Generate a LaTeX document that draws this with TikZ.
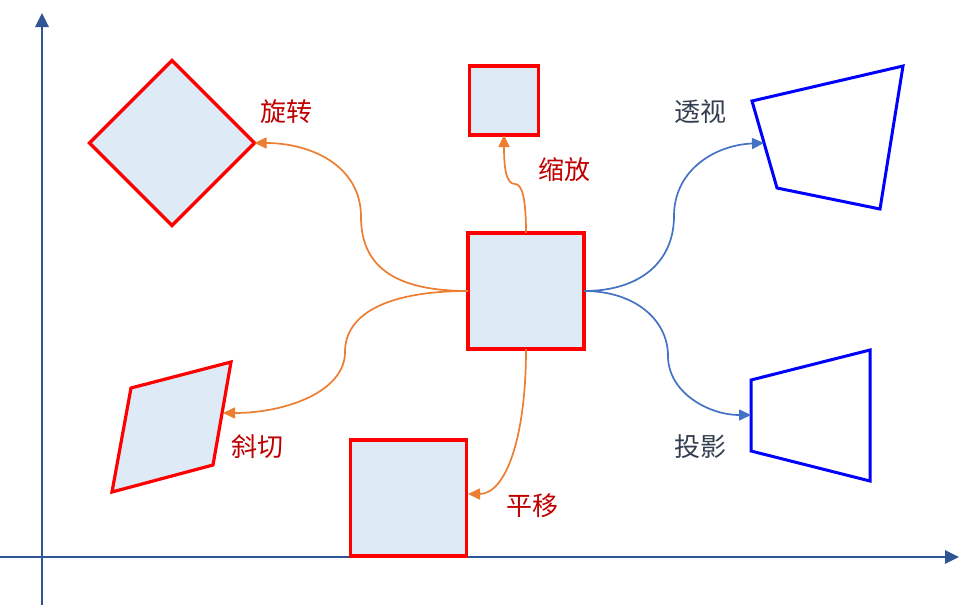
\documentclass[tikz,border=0pt]{standalone}
\usepackage{fontspec}
\newfontfamily\cjk{Noto Sans CJK SC}
\usetikzlibrary{arrows.meta,shapes.geometric}
\definecolor{axisblue}{HTML}{2F5597}
\definecolor{fillblue}{HTML}{DEEBF7}
\definecolor{conorange}{HTML}{ED7D31}
\definecolor{conblue}{HTML}{4472C4}
\definecolor{labred}{HTML}{C00000}
\definecolor{labdark}{HTML}{333F50}
\begin{document}
\begin{tikzpicture}[x=1pt,y=-1pt,
  axisline/.style={draw=axisblue,line width=2.6pt,-{Triangle[length=14pt,width=13pt]}},
  redshape/.style={draw=red,line width=3.2pt,fill=fillblue},
  redbox/.style={redshape,rectangle,inner sep=0pt,outer sep=0pt},
  blueshape/.style={draw=blue,line width=3pt,line join=miter},
  orangecon/.style={draw=conorange,line width=1.7pt,-{Triangle[length=12pt,width=11pt]}},
  bluecon/.style={draw=conblue,line width=1.7pt,-{Triangle[length=12pt,width=11pt]}},
  lab/.style={font=\cjk\fontsize{26}{30}\selectfont,inner sep=0pt},
  redlabel/.style={lab,text=labred},
  darklabel/.style={lab,text=labdark},
]
\useasboundingbox (0,0) rectangle (970,605);

% axes
\coordinate (yb) at (42,605);
\coordinate (yt) at (42,13);
\coordinate (xl) at (0,557);
\coordinate (xr) at (959,557);
\draw[axisline] (yb) -- (yt);
\draw[axisline] (xl) -- (xr);

% shapes
\node[redbox,minimum size=116pt] (center) at (526,291) {};
\node[redbox,minimum size=69pt] (scale) at (504,100.5) {};
\node[redbox,minimum size=116pt] (trans) at (408.5,498) {};
\node[redshape,diamond,aspect=1,inner sep=0pt,outer sep=0pt,minimum width=165pt,minimum height=165pt] (rot) at (172,143) {};

\coordinate (s1) at (131,388);
\coordinate (s2) at (231,362);
\coordinate (s3) at (213,465);
\coordinate (s4) at (112,492);
\draw[redshape,line join=miter] (s1) -- (s2) -- (s3) -- (s4) -- cycle;
\coordinate (shearR) at (223,413);

\coordinate (p1) at (752,101);
\coordinate (p2) at (903,66);
\coordinate (p3) at (880,209);
\coordinate (p4) at (777,188);
\draw[blueshape] (p1) -- (p2) -- (p3) -- (p4) -- cycle;
\coordinate (perspL) at (764,143);

\coordinate (q1) at (751,380);
\coordinate (q2) at (870,350);
\coordinate (q3) at (870,481);
\coordinate (q4) at (751,451);
\draw[blueshape] (q1) -- (q2) -- (q3) -- (q4) -- cycle;
\coordinate (projL) at (751,415);

\coordinate (transR) at (468,494);

% connectors
\draw[orangecon] (center.west) .. controls (400,291) and (361,270) .. (361,217)
  .. controls (361,165) and (310,143) .. (rot.east);
\draw[orangecon] (center.west) .. controls (385,291) and (345,315) .. (345,352)
  .. controls (345,392) and (285,413) .. (shearR);
\draw[orangecon] (center.north) .. controls (526,198) and (522,184) .. (515,184)
  .. controls (506,184) and (504,168) .. (scale.south);
\draw[orangecon] (center.south) .. controls (526,440) and (505,494) .. (transR);
\draw[bluecon] (center.east) .. controls (640,291) and (674,262) .. (674,216)
  .. controls (674,170) and (715,145) .. (perspL);
\draw[bluecon] (center.east) .. controls (635,291) and (668,320) .. (668,356)
  .. controls (668,392) and (708,415) .. (projL);

% labels
\node[redlabel] (lrot) at (286,112) {旋转};
\node[redlabel] (lscale) at (564,170) {缩放};
\node[darklabel] (lpersp) at (700,112) {透视};
\node[darklabel] (lproj) at (700,447) {投影};
\node[redlabel] (lshear) at (257,447) {斜切};
\node[redlabel] (ltrans) at (532,506) {平移};
\end{tikzpicture}
\end{document}
